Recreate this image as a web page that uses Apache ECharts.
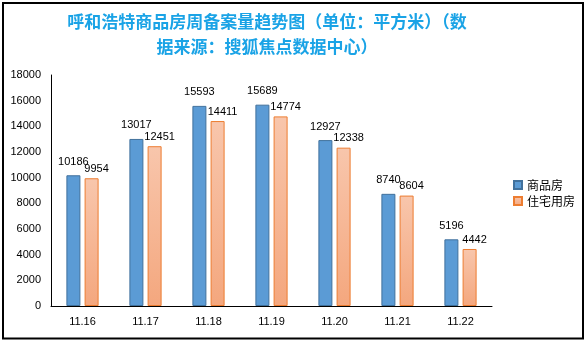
<!DOCTYPE html>
<html>
<head>
<meta charset="utf-8">
<script src="https://cdn.jsdelivr.net/npm/echarts@6/dist/echarts.min.js"></script>
<style>
html,body{margin:0;padding:0;background:#fff;}
#chart{width:586px;height:343px;}
</style>
</head>
<body>
<div id="chart"></div>
<script>
// Weekly registered floor area, Hohhot (square metres)
const weeks = ['11.16', '11.17', '11.18', '11.19', '11.20', '11.21', '11.22'];
const commercial = [10186, 13017, 15593, 15689, 12927, 8740, 5196];
const residential = [9954, 12451, 14411, 14774, 12338, 8604, 4442];
const seriesNames = ['商品房', '住宅用房'];

const FONT = '"Liberation Sans", "Noto Sans CJK SC", sans-serif';
const chart = echarts.init(document.getElementById('chart'));

chart.setOption({
  backgroundColor: '#fff',
  animation: false,
  title: {
    text: '呼和浩特商品房周备案量趋势图（单位：平方米）（数\n据来源：搜狐焦点数据中心）',
    left: 262,
    top: 4,
    textAlign: 'center',
    textStyle: {
      fontFamily: '"Noto Sans CJK SC", sans-serif',
      fontSize: 17,
      fontWeight: 'bold',
      color: '#1AA3E6',
      lineHeight: 25,
      align: 'center'
    }
  },
  legend: {
    orient: 'vertical',
    left: 508,
    top: 174,
    icon: 'rect',
    itemWidth: 8,
    itemHeight: 8,
    itemGap: 4,
    textStyle: { fontFamily: '"Noto Sans CJK SC", sans-serif', fontSize: 12, color: '#000' },
    data: seriesNames
  },
  grid: { left: 51, right: 94, top: 75, bottom: 37 },
  xAxis: {
    type: 'category',
    data: weeks,
    axisLine: { lineStyle: { color: '#000', width: 1 } },
    axisTick: { show: false },
    axisLabel: { color: '#000', fontFamily: FONT, fontSize: 11, margin: 10 }
  },
  yAxis: {
    type: 'value',
    min: 0,
    max: 18000,
    interval: 2000,
    axisLine: { show: true, lineStyle: { color: '#000', width: 1 } },
    axisTick: { show: false },
    splitLine: { show: false },
    axisLabel: { color: '#000', fontFamily: FONT, fontSize: 11, margin: 10, formatter: v => String(v) }
  },
  series: [
    {
      name: seriesNames[0],
      type: 'bar',
      data: commercial,
      barWidth: 14,
      barGap: '30%',
      itemStyle: { color: '#5B9BD5', borderColor: '#41719C', borderWidth: 1 },
      label: { show: true, position: 'top', distance: 8, color: '#000', fontFamily: FONT, fontSize: 11 }
    },
    {
      name: seriesNames[1],
      type: 'bar',
      data: residential,
      barWidth: 14,
      itemStyle: {
        color: new echarts.graphic.LinearGradient(0, 0, 0, 1, [
          { offset: 0, color: '#F8C6AC' },
          { offset: 1, color: '#F4A77E' }
        ]),
        borderColor: '#ED7D31',
        borderWidth: 1
      },
      label: { show: true, position: 'top', distance: 4, offset: [5, 0], color: '#000', fontFamily: FONT, fontSize: 11 }
    }
  ],
  graphic: [
    {
      type: 'rect',
      shape: { x: 3, y: 3, width: 580, height: 335.5 },
      style: { fill: null, stroke: '#000', lineWidth: 2 },
      silent: true
    }
  ]
});
</script>
</body>
</html>
